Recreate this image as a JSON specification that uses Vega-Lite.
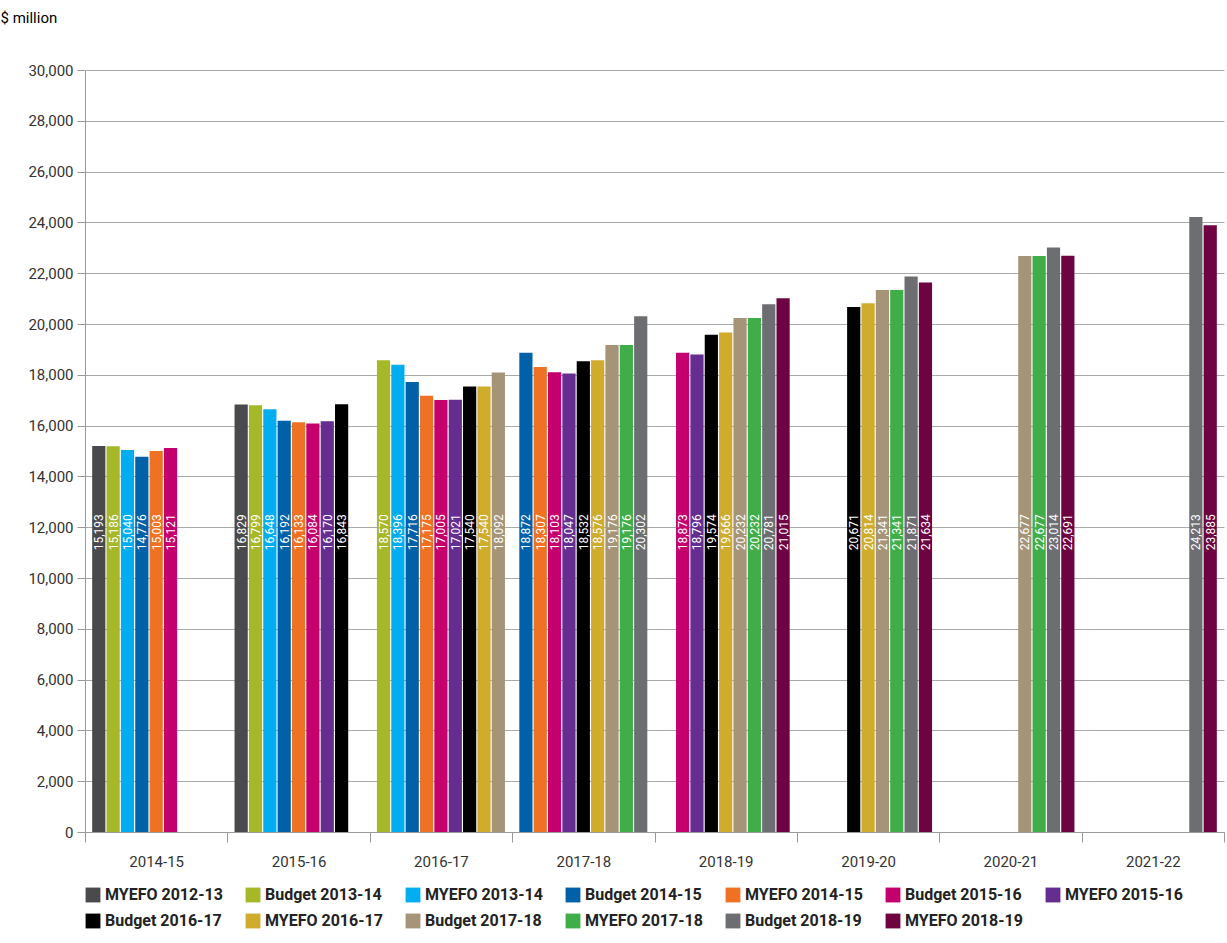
{
  "$schema": "https://vega.github.io/schema/vega-lite/v6.json",
  "width": 1139,
  "height": 762,
  "padding": {"left": 0, "top": 10, "right": 0, "bottom": 0},
  "background": "white",
  "config": {
    "font": "Roboto",
    "view": {"stroke": null}
  },
  "data": {
    "values": [
      {"year": "2014-15", "series": "MYEFO 2012-13", "slot": 0, "value": 15193},
      {"year": "2014-15", "series": "Budget 2013-14", "slot": 1, "value": 15186},
      {"year": "2014-15", "series": "MYEFO 2013-14", "slot": 2, "value": 15040},
      {"year": "2014-15", "series": "Budget 2014-15", "slot": 3, "value": 14776},
      {"year": "2014-15", "series": "MYEFO 2014-15", "slot": 4, "value": 15003},
      {"year": "2014-15", "series": "Budget 2015-16", "slot": 5, "value": 15121},
      {"year": "2015-16", "series": "MYEFO 2012-13", "slot": 0, "value": 16829},
      {"year": "2015-16", "series": "Budget 2013-14", "slot": 1, "value": 16799},
      {"year": "2015-16", "series": "MYEFO 2013-14", "slot": 2, "value": 16648},
      {"year": "2015-16", "series": "Budget 2014-15", "slot": 3, "value": 16192},
      {"year": "2015-16", "series": "MYEFO 2014-15", "slot": 4, "value": 16133},
      {"year": "2015-16", "series": "Budget 2015-16", "slot": 5, "value": 16084},
      {"year": "2015-16", "series": "MYEFO 2015-16", "slot": 6, "value": 16170},
      {"year": "2015-16", "series": "Budget 2016-17", "slot": 7, "value": 16843},
      {"year": "2016-17", "series": "Budget 2013-14", "slot": 0, "value": 18570},
      {"year": "2016-17", "series": "MYEFO 2013-14", "slot": 1, "value": 18396},
      {"year": "2016-17", "series": "Budget 2014-15", "slot": 2, "value": 17716},
      {"year": "2016-17", "series": "MYEFO 2014-15", "slot": 3, "value": 17175},
      {"year": "2016-17", "series": "Budget 2015-16", "slot": 4, "value": 17005},
      {"year": "2016-17", "series": "MYEFO 2015-16", "slot": 5, "value": 17021},
      {"year": "2016-17", "series": "Budget 2016-17", "slot": 6, "value": 17540},
      {"year": "2016-17", "series": "MYEFO 2016-17", "slot": 7, "value": 17540},
      {"year": "2016-17", "series": "Budget 2017-18", "slot": 8, "value": 18092},
      {"year": "2017-18", "series": "Budget 2014-15", "slot": 0, "value": 18872},
      {"year": "2017-18", "series": "MYEFO 2014-15", "slot": 1, "value": 18307},
      {"year": "2017-18", "series": "Budget 2015-16", "slot": 2, "value": 18103},
      {"year": "2017-18", "series": "MYEFO 2015-16", "slot": 3, "value": 18047},
      {"year": "2017-18", "series": "Budget 2016-17", "slot": 4, "value": 18532},
      {"year": "2017-18", "series": "MYEFO 2016-17", "slot": 5, "value": 18576},
      {"year": "2017-18", "series": "Budget 2017-18", "slot": 6, "value": 19176},
      {"year": "2017-18", "series": "MYEFO 2017-18", "slot": 7, "value": 19176},
      {"year": "2017-18", "series": "Budget 2018-19", "slot": 8, "value": 20302},
      {"year": "2018-19", "series": "Budget 2015-16", "slot": 1, "value": 18873},
      {"year": "2018-19", "series": "MYEFO 2015-16", "slot": 2, "value": 18796},
      {"year": "2018-19", "series": "Budget 2016-17", "slot": 3, "value": 19574},
      {"year": "2018-19", "series": "MYEFO 2016-17", "slot": 4, "value": 19666},
      {"year": "2018-19", "series": "Budget 2017-18", "slot": 5, "value": 20232},
      {"year": "2018-19", "series": "MYEFO 2017-18", "slot": 6, "value": 20232},
      {"year": "2018-19", "series": "Budget 2018-19", "slot": 7, "value": 20781},
      {"year": "2018-19", "series": "MYEFO 2018-19", "slot": 8, "value": 21015},
      {"year": "2019-20", "series": "Budget 2016-17", "slot": 3, "value": 20671},
      {"year": "2019-20", "series": "MYEFO 2016-17", "slot": 4, "value": 20814},
      {"year": "2019-20", "series": "Budget 2017-18", "slot": 5, "value": 21341},
      {"year": "2019-20", "series": "MYEFO 2017-18", "slot": 6, "value": 21341},
      {"year": "2019-20", "series": "Budget 2018-19", "slot": 7, "value": 21871},
      {"year": "2019-20", "series": "MYEFO 2018-19", "slot": 8, "value": 21634},
      {"year": "2020-21", "series": "Budget 2017-18", "slot": 5, "value": 22677},
      {"year": "2020-21", "series": "MYEFO 2017-18", "slot": 6, "value": 22677},
      {"year": "2020-21", "series": "Budget 2018-19", "slot": 7, "value": 23014},
      {"year": "2020-21", "series": "MYEFO 2018-19", "slot": 8, "value": 22691},
      {"year": "2021-22", "series": "Budget 2018-19", "slot": 7, "value": 24213},
      {"year": "2021-22", "series": "MYEFO 2018-19", "slot": 8, "value": 23885}
    ]
  },
  "encoding": {
    "x": {
      "field": "year", "type": "nominal", "title": null,
      "scale": {"paddingInner": 0, "paddingOuter": 0},
      "axis": {
        "labelAngle": 0, "labelFontSize": 15, "labelColor": "#333", "labelPadding": 12,
        "domainColor": "#999", "tickColor": "#999", "tickSize": 10, "tickBand": "extent"
      }
    },
    "xOffset": {
      "field": "slot", "type": "ordinal",
      "scale": {"domain": [0, 1, 2, 3, 4, 5, 6, 7, 8], "paddingInner": 0.08, "paddingOuter": 0.5}
    }
  },
  "layer": [
    {
      "mark": {"type": "bar"},
      "encoding": {
        "y": {
          "field": "value", "type": "quantitative",
          "scale": {"domain": [0, 30000]},
          "axis": {
            "title": "$ million", "titleAngle": 0, "titleAlign": "left", "titleAnchor": "end",
            "titleX": -85, "titleY": -45, "titleFontSize": 15, "titleFontWeight": "normal",
            "titleColor": "#000",
            "values": [0, 2000, 4000, 6000, 8000, 10000, 12000, 14000, 16000, 18000, 20000, 22000, 24000, 26000, 28000, 30000],
            "format": ",d", "labelFontSize": 15, "labelColor": "#333",
            "gridColor": "#aaa", "domainColor": "#999", "tickColor": "#999", "tickSize": 8, "labelPadding": 4
          }
        },
        "color": {
          "field": "series", "type": "nominal", "title": null,
          "scale": {
            "domain": ["MYEFO 2012-13", "Budget 2013-14", "MYEFO 2013-14", "Budget 2014-15", "MYEFO 2014-15", "Budget 2015-16", "MYEFO 2015-16", "Budget 2016-17", "MYEFO 2016-17", "Budget 2017-18", "MYEFO 2017-18", "Budget 2018-19", "MYEFO 2018-19"],
            "range": ["#4a4a4c", "#a6b727", "#00aeef", "#0061a8", "#ef7123", "#c4006f", "#662d91", "#000000", "#cfac2c", "#a69478", "#3fae49", "#6d6e71", "#6d0340"]
          },
          "legend": {
            "orient": "bottom", "direction": "horizontal", "columns": 7,
            "symbolType": "square", "symbolSize": 220, "symbolStrokeWidth": 0,
            "labelFontSize": 16, "labelFontWeight": "bold", "labelColor": "#222",
            "columnPadding": 22, "rowPadding": 10, "offset": 18, "labelLimit": 200
          }
        }
      }
    },
    {
      "mark": {"type": "text", "angle": 270, "align": "center", "baseline": "middle", "color": "white", "fontSize": 12, "dy": 0.5},
      "encoding": {
        "y": {"datum": 11800},
        "text": {"field": "value", "type": "quantitative", "format": ",d"}
      }
    }
  ]
}
